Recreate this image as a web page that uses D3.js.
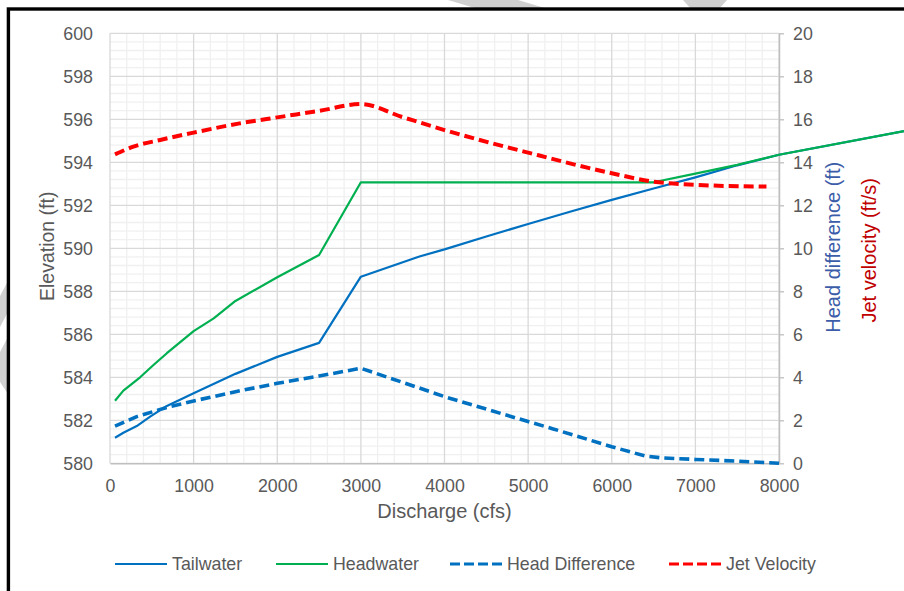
<!DOCTYPE html>
<html>
<head>
<meta charset="utf-8">
<script src="https://cdn.jsdelivr.net/npm/d3@7"></script>
<style>
  html, body { margin: 0; padding: 0; background: #fff; }
  svg { display: block; }
  text { font-family: "Liberation Sans", Arial, sans-serif; }
</style>
</head>
<body>
<svg id="chart" width="904" height="591"></svg>
<script>
// ---------- data ----------
const xTicks = [0, 1000, 2000, 3000, 4000, 5000, 6000, 7000, 8000];
const elevTicks = [580, 582, 584, 586, 588, 590, 592, 594, 596, 598, 600];
const rightTicks = [0, 2, 4, 6, 8, 10, 12, 14, 16, 18, 20];

const tailwaterQ = [60, 160, 320, 480, 680, 1000, 1500, 2000, 2500, 3000, 3700, 4000, 4500, 5000, 5500, 6000, 6500, 7000, 7500, 8000, 9500];
const tailwater  = [581.19, 581.42, 581.73, 582.17, 582.67, 583.26, 584.16, 584.95, 585.60, 588.68, 589.62, 589.95, 590.55, 591.13, 591.70, 592.25, 592.78, 593.30, 593.86, 594.35, 595.45];

const headwaterQ = [60, 160, 360, 520, 680, 1000, 1240, 1500, 2000, 2500, 3000, 6500, 7000, 7500, 8000, 9500];
const headwater  = [582.91, 583.38, 584.00, 584.57, 585.12, 586.15, 586.74, 587.55, 588.65, 589.69, 593.07, 593.07, 593.47, 593.88, 594.35, 595.45];

const headDiffQ = [60, 320, 680, 1000, 1500, 2000, 2500, 3000, 3700, 4000, 5000, 5300, 6000, 6400, 6600, 7000, 7500, 8000];
const headDiff  = [1.73, 2.17, 2.60, 2.90, 3.33, 3.72, 4.06, 4.42, 3.50, 3.10, 1.94, 1.60, 0.77, 0.34, 0.25, 0.18, 0.10, 0.00];

const jetQ = [60, 280, 600, 1000, 1550, 2000, 2500, 3000, 3500, 4000, 5000, 6000, 6500, 7000, 7850];
const jetVel = [14.37, 14.73, 15.04, 15.38, 15.81, 16.09, 16.39, 16.71, 16.10, 15.50, 14.45, 13.49, 13.10, 12.95, 12.87];

const seriesNames = ["Tailwater", "Headwater", "Head Difference", "Jet Velocity"];

// ---------- layout ----------
const W = 904, H = 591;
const plot = { left: 110, right: 779, top: 33.3, bottom: 463.3 };
const textColor = "#595959";

const svg = d3.select("#chart");
svg.append("rect").attr("width", W).attr("height", H).attr("fill", "#fff");

// watermark fragments (decoration)
const wm = "#d0d0d0";
const wmShapes = [
  [[448,0],[518,0],[548,9],[478,9]],
  [[683,0],[727,0],[719,9],[691,9]],
  [[0,296],[8,281],[8,312],[0,327]],
  [[0,352],[8,337],[8,394],[0,382]]
];
svg.append("g").selectAll("path").data(wmShapes).join("path")
  .attr("d", d => "M" + d.map(p => p.join(",")).join("L") + "Z")
  .attr("fill", wm);

// frame
svg.append("rect").attr("x", 8.4).attr("y", 9).attr("width", 1200).attr("height", 1200)
  .attr("fill", "none").attr("stroke", "#000").attr("stroke-width", 3.4);

const x = d3.scaleLinear().domain([0, 8000]).range([plot.left, plot.right]);
const yL = d3.scaleLinear().domain([580, 600]).range([plot.bottom, plot.top]);
const yR = d3.scaleLinear().domain([0, 20]).range([plot.bottom, plot.top]);

// minor gridlines
const grid = svg.append("g");
grid.selectAll(".mx").data(d3.range(0, 8001, 200).filter(v => v % 1000 !== 0)).join("line")
  .attr("x1", d => x(d)).attr("x2", d => x(d)).attr("y1", plot.top).attr("y2", plot.bottom)
  .attr("stroke", "#f0f0f0").attr("stroke-width", 1.3);
grid.selectAll(".my").data(d3.range(0, 50).map(i => 580 + i * 0.4).filter((v, i) => i % 5 !== 0)).join("line")
  .attr("x1", plot.left).attr("x2", plot.right).attr("y1", d => yL(d)).attr("y2", d => yL(d))
  .attr("stroke", "#f0f0f0").attr("stroke-width", 1.3);
// major gridlines
grid.selectAll(".Mx").data(xTicks).join("line")
  .attr("x1", d => x(d)).attr("x2", d => x(d)).attr("y1", plot.top).attr("y2", plot.bottom)
  .attr("stroke", "#d9d9d9").attr("stroke-width", 1.3);
grid.selectAll(".My").data(elevTicks).join("line")
  .attr("x1", plot.left).attr("x2", plot.right).attr("y1", d => yL(d)).attr("y2", d => yL(d))
  .attr("stroke", "#d9d9d9").attr("stroke-width", 1.3);

// axes
const fs = "17.8px";
const gL = svg.append("g").attr("transform", `translate(${plot.left},0)`)
  .call(d3.axisLeft(yL).tickValues(elevTicks).tickSize(0).tickPadding(17).tickFormat(d3.format("d")));
gL.select(".domain").remove();
gL.selectAll("text").attr("fill", textColor).style("font-size", fs);

const gB = svg.append("g").attr("transform", `translate(0,${plot.bottom})`)
  .call(d3.axisBottom(x).tickValues(xTicks).tickSize(0).tickPadding(16).tickFormat(d3.format("d")));
gB.select(".domain").attr("stroke", "#bfbfbf").attr("stroke-width", 1.5);
gB.selectAll("text").attr("fill", textColor).style("font-size", fs);

const gR = svg.append("g").attr("transform", `translate(${plot.right},0)`)
  .call(d3.axisRight(yR).tickValues(rightTicks).tickSizeInner(5).tickSizeOuter(0).tickPadding(9).tickFormat(d3.format("d")));
gR.select(".domain").attr("stroke", "#bfbfbf").attr("stroke-width", 1.5);
gR.selectAll(".tick line").attr("stroke", "#bfbfbf").attr("stroke-width", 1.3);
gR.selectAll("text").attr("fill", textColor).style("font-size", fs);

// axis titles
svg.append("text").attr("x", (plot.left + plot.right) / 2).attr("y", 518)
  .attr("text-anchor", "middle").attr("fill", textColor).style("font-size", "20px").text("Discharge (cfs)");
svg.append("text").attr("transform", `translate(54,${(plot.top + plot.bottom) / 2 - 2}) rotate(-90)`)
  .attr("text-anchor", "middle").attr("fill", textColor).style("font-size", "19.5px").text("Elevation (ft)");
svg.append("text").attr("transform", `translate(840,${(plot.top + plot.bottom) / 2 - 1}) rotate(-90)`)
  .attr("text-anchor", "middle").attr("fill", "#3B5CA8").style("font-size", "20px").text("Head difference (ft)");
svg.append("text").attr("transform", `translate(876,${(plot.top + plot.bottom) / 2 + 2}) rotate(-90)`)
  .attr("text-anchor", "middle").attr("fill", "#C00000").style("font-size", "20px").text("Jet velocity (ft/s)");

// series
const styles = [
  { color: "#0070C0", width: 2.2, dash: null },
  { color: "#00B050", width: 2.2, dash: null },
  { color: "#0070C0", width: 3.6, dash: "10,5" },
  { color: "#FF0000", width: 4.0, dash: "10,5" }
];
const lineL = d3.line().x(d => x(d[0])).y(d => yL(d[1]));
const lineRLin = d3.line().x(d => x(d[0])).y(d => yR(d[1]));
const lineRSmooth = d3.line().x(d => x(d[0])).y(d => yR(d[1])).curve(d3.curveMonotoneX);

const series = [
  { pts: d3.zip(tailwaterQ, tailwater), gen: lineL },
  { pts: d3.zip(headwaterQ, headwater), gen: lineL },
  { pts: d3.zip(headDiffQ, headDiff), gen: lineRLin },
  { pts: d3.zip(jetQ, jetVel), gen: lineRSmooth }
];
series.forEach((s, i) => {
  svg.append("path").attr("d", s.gen(s.pts)).attr("fill", "none")
    .attr("stroke", styles[i].color).attr("stroke-width", styles[i].width)
    .attr("stroke-dasharray", styles[i].dash).attr("stroke-linejoin", "round");
});

// legend
const legX = [115, 276, 450, 669];
const legY = 564;
const leg = svg.append("g");
seriesNames.forEach((name, i) => {
  leg.append("line").attr("x1", legX[i]).attr("x2", legX[i] + 52).attr("y1", legY).attr("y2", legY)
    .attr("stroke", styles[i].color).attr("stroke-width", i < 2 ? 2.2 : 3.2)
    .attr("stroke-dasharray", styles[i].dash ? "10,4" : null);
  leg.append("text").attr("x", legX[i] + 57).attr("y", legY).attr("dy", "0.35em")
    .attr("fill", textColor).style("font-size", fs).text(name);
});
</script>
</body>
</html>
